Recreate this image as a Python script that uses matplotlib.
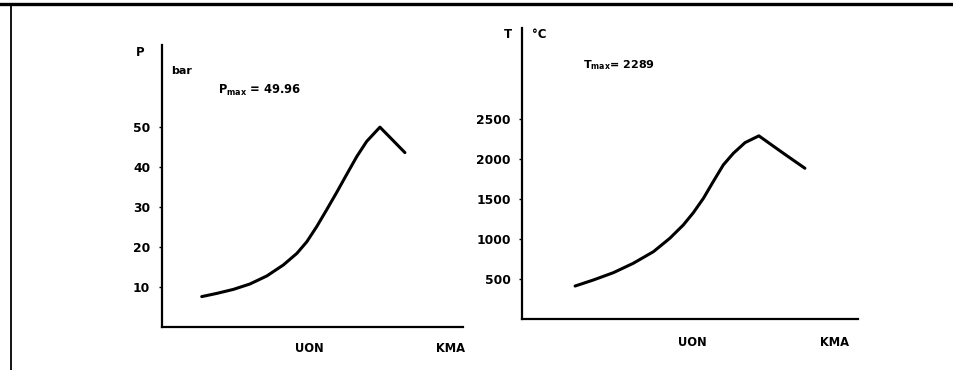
import matplotlib
matplotlib.use("Agg")
import matplotlib.pyplot as plt
from matplotlib.lines import Line2D

plt.rcParams['font.family'] = ['DejaVu Sans']
plt.rcParams['font.weight'] = 'bold'
plt.rcParams['mathtext.fontset'] = 'custom'
plt.rcParams['mathtext.rm'] = 'DejaVu Sans:bold'
plt.rcParams['mathtext.it'] = 'DejaVu Sans:bold'
plt.rcParams['mathtext.bf'] = 'DejaVu Sans:bold'

# Cylinder pressure over crank position (0..100 across the axis)
p_pos = [13.2, 18.2, 23.7, 29.2, 34.8, 40.3, 44.8, 48.1, 51.4, 54.7, 58.0, 61.4,
         64.7, 68.0, 72.4, 76.8, 80.7]
p_bar = [7.6, 8.4, 9.4, 10.75, 12.75, 15.5, 18.4, 21.3, 25.1, 29.3, 33.6, 38.2,
         42.6, 46.4, 49.96, 46.6, 43.6]
p_ticks = [10, 20, 30, 40, 50]
p_max = 49.96

# Gas temperature over crank position
t_pos = [15.8, 21.2, 27.2, 33.1, 39.1, 44.0, 48.0, 51.0, 54.0, 56.9, 59.9, 62.9,
         66.4, 70.5, 77.8, 84.2]
t_degc = [412, 487, 579, 696, 841, 1009, 1175, 1329, 1509, 1716, 1925, 2071,
          2205, 2289, 2071, 1884]
t_ticks = [500, 1000, 1500, 2000, 2500]
t_max = 2289

# Crank markers on the horizontal axis
p_marks = [49.0, 96.0]
t_marks = [50.6, 93.0]
mark_labels = ['UON', 'KMA']

W, H = 954, 370
fig = plt.figure(figsize=(W / 100, H / 100), dpi=100)


def fx(px):
    return px / W


def fy(py):
    return 1 - py / H


def style(ax, ypad, xpad):
    for s in ('top', 'right'):
        ax.spines[s].set_visible(False)
    for s in ('left', 'bottom'):
        ax.spines[s].set_linewidth(1.6)
    ax.tick_params(axis='y', length=2, width=1, pad=ypad, labelsize=8.8)
    ax.tick_params(axis='x', length=0, pad=xpad, labelsize=8.3)
    for lab in ax.get_xticklabels() + ax.get_yticklabels():
        lab.set_fontweight('bold')


line_kw = dict(color='black', lw=2.2, solid_capstyle='round', solid_joinstyle='round')

# Left panel: pressure
ax1 = fig.add_axes([fx(162), fy(327), fx(463) - fx(162), fy(45) - fy(327)])
ax1.plot(p_pos, p_bar, **line_kw)
ax1.set_xlim(0, 100)
ax1.set_ylim(0, 70.5)
ax1.set_yticks(p_ticks)
ax1.set_xticks(p_marks)
ax1.set_xticklabels(mark_labels)
style(ax1, 6.5, 11)

fig.text(fx(136), fy(52), 'P', fontsize=8.5, fontweight='bold', va='center', ha='left')
fig.text(fx(171), fy(71), 'bar', fontsize=8, fontweight='bold', va='center', ha='left')
fig.text(fx(218), fy(90), r'$\mathrm{P_{max}}$' + f' = {p_max:.2f}', fontsize=8.3,
         fontweight='bold', va='center', ha='left')

# Right panel: temperature
ax2 = fig.add_axes([fx(522), fy(319), fx(858) - fx(522), fy(28) - fy(319)])
ax2.plot(t_pos, t_degc, **line_kw)
ax2.set_xlim(0, 100)
ax2.set_ylim(0, 3637)
ax2.set_yticks(t_ticks)
ax2.set_xticks(t_marks)
ax2.set_xticklabels(mark_labels)
style(ax2, 6, 12)

fig.text(fx(504), fy(35), 'T', fontsize=8.5, fontweight='bold', va='center', ha='left')
fig.text(fx(532), fy(35), '°C', fontsize=8.5, fontweight='bold', va='center', ha='left')
fig.text(fx(583), fy(65), r'$\mathrm{T_{max}}$' + f'= {t_max}', fontsize=8.0,
         fontweight='bold', va='center', ha='left')

# Frame lines along the top and left edges
fig.add_artist(Line2D([0, 1], [fy(3.5), fy(3.5)], transform=fig.transFigure,
                      color='black', lw=2.4))
fig.add_artist(Line2D([fx(11), fx(11)], [fy(3.5), 0], transform=fig.transFigure,
                      color='black', lw=1.3))

fig.savefig('out.png', dpi=100)
